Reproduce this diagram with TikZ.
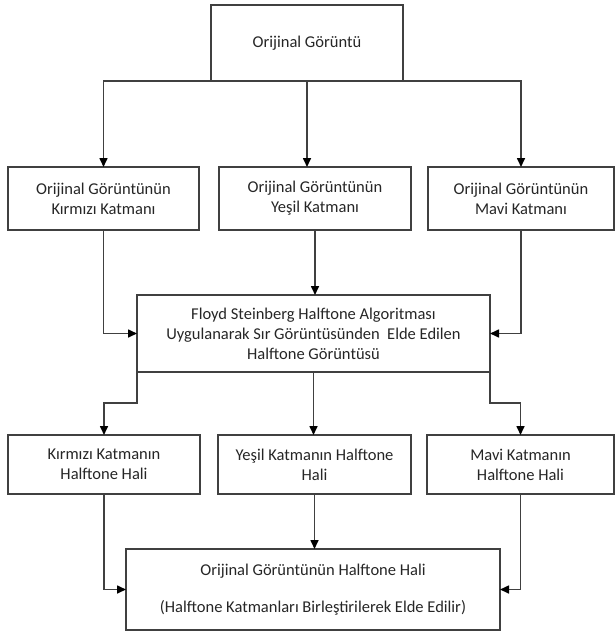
\documentclass[tikz,border=0pt]{standalone}
\usepackage{fontspec}
\setmainfont{Carlito}
\usetikzlibrary{arrows.meta,calc}
\definecolor{ln}{HTML}{404040}
\definecolor{tx}{HTML}{262626}
\begin{document}
\begin{tikzpicture}[x=1pt,y=-1pt,
  box/.style={draw=ln,line width=1.6pt,rectangle,inner sep=2pt,outer sep=0pt,align=center,text=tx,
    font=\fontsize{16.5}{20}\selectfont},
  arr/.style={draw=ln,line width=1.6pt,-{Triangle[length=9pt,width=8pt,color=black]}}]
\useasboundingbox (0,0) rectangle (616,635);
\node[box,minimum width=192pt,minimum height=76pt] (top) at (307,43) {Orijinal Görüntü};
\node[box,minimum width=191pt,minimum height=63pt] (r2l) at (103.5,198.5) {Orijinal Görüntünün\\Kırmızı Katmanı};
\node[box,minimum width=192pt,minimum height=63pt] (r2m) at (315,198.5) {Orijinal Görüntünün\\Yeşil Katmanı};
\node[box,minimum width=186pt,minimum height=63pt] (r2r) at (521,198.5) {Orijinal Görüntünün\\Mavi Katmanı};
\node[box,minimum width=353pt,minimum height=77pt] (fl) at (313.5,333.5) {Floyd Steinberg Halftone Algoritması\\Uygulanarak Sır Görüntüsünden\ \ Elde Edilen\\Halftone Görüntüsü};
\node[box,minimum width=192pt,minimum height=59pt] (r4l) at (104,464.5) {Kırmızı Katmanın\\Halftone Hali};
\node[box,minimum width=193pt,minimum height=59pt] (r4m) at (314.5,464.5) {Yeşil Katmanın Halftone\\Hali};
\node[box,minimum width=187pt,minimum height=59pt] (r4r) at (520.5,464.5) {Mavi Katmanın\\Halftone Hali};
\node[box,minimum width=374pt,minimum height=81pt] (bot) at (313,589.5) {Orijinal Görüntünün Halftone Hali\\[17pt](Halftone Katmanları Birleştirilerek Elde Edilir)};
% top to row 2
\draw[arr] (top.south west) -| (r2l.north);
\draw[arr] (top.south east) -| (r2r.north);
\draw[arr] (top.south) -- (top.south |- r2m.north);
% row 2 to Floyd
\draw[arr] (r2l.south) |- (fl.west);
\draw[arr] (r2m.south) -- (r2m.south |- fl.north);
\draw[arr] (r2r.south) |- (fl.east);
% Floyd to row 4
\draw[arr] (fl.south west) -- ++(0,31) -| (r4l.north);
\draw[arr] (fl.south) -- (fl.south |- r4m.north);
\draw[arr] (fl.south east) -- ++(0,31) -| (r4r.north);
% row 4 to bottom
\draw[arr] (r4l.south) |- (bot.west);
\draw[arr] (r4m.south) -- (r4m.south |- bot.north);
\draw[arr] (r4r.south) |- (bot.east);
\end{tikzpicture}
\end{document}
